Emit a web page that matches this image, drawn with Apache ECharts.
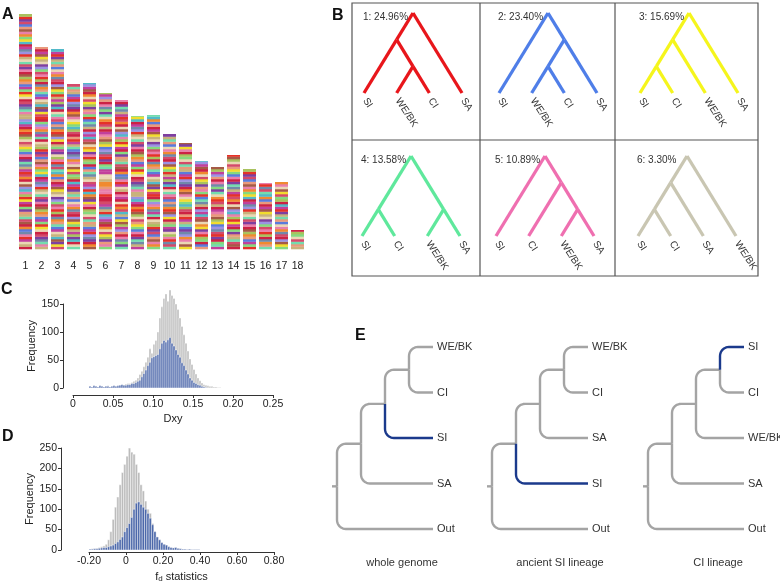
<!DOCTYPE html>
<html><head><meta charset="utf-8">
<script src="https://cdn.jsdelivr.net/npm/echarts/dist/echarts.min.js"></script>
<style>html,body{margin:0;padding:0;background:#fff}#c{width:780px;height:584px}</style>
</head><body><div id="c"></div>
<script>
// ---------------- Panel A data ----------------
const chromLabels = ['1','2','3','4','5','6','7','8','9','10','11','12','13','14','15','16','17','18'];
const chromLengths = [235,202,200,165,166,156,149,133,134,115,106,88,82,94,80,66,67,19];
const stripePalette = ['#cc2244','#e53228','#f08a30','#f2dc2e','#c9b27c','#a9c25e','#86d97e','#74dcae','#52b9c9','#5a7bdc','#9b92e2','#7e3fa0','#c2409c','#e97fab','#e99a7c','#a65a46','#ead7b4','#7189aa','#d44a6a'];
const stripePattern = "aeqmbnrjcapsheolgamdbfnikpqacsbmerhlanjgdosqfpbcamikeenhrlsaqdbgmjocfpanlshqebkrmaidgcnpojslbfeqahmrcnkgabsdlpieqmjhocrafbnsgklqedpmaojcihsrbnfqlmgeadkpbcrojsnhqailfmebgdpkasrcnqjohelbmiafgsdpqnckrljhemboasfigdqnpcalrkbmjeohsqgfandlpcibkmsqerhojagfbnldcqpsimkaerhjbgnolfdsqcapmkibermsaabnnocceqqmmhgalbsrkjdfponmaesbcqhlgrnaokmfpdjeiscbqamn";
const stripeUnit = 2.5;

// ---------------- Panel B data ----------------
const topoPercent = [24.96, 23.40, 15.69, 13.58, 10.89, 3.30];
const topoTrees = [
  [['SI',['WE/BK','CI']],'SA'],
  ['SI',[['WE/BK','CI'],'SA']],
  [[['SI','CI'],'WE/BK'],'SA'],
  [['SI','CI'],['WE/BK','SA']],
  ['SI',['CI',['WE/BK','SA']]],
  [[['SI','CI'],'SA'],'WE/BK']
];
const topoColors = ['#e8161b','#4f7ee8','#f5f51c','#5fe89c','#ef6fb0','#c9c6b2'];

// ---------------- Panel C data (Dxy histogram) ----------------
const dxyBinStart = 0.02, dxyBinWidth = 0.0025;
const dxyAll  = [3,2,4,3,2,4,3,2,3,4,2,3,4,3,4,5,6,5,7,8,8,10,12,14,18,24,30,38,46,55,70,62,78,85,100,125,145,160,168,155,175,165,160,150,140,125,110,95,80,66,52,42,33,25,18,13,9,6,5,4,3,3,2,2,1,1];
const dxyBlue = [3,2,4,3,2,4,3,2,3,3,2,3,4,3,4,5,6,5,5,6,6,8,8,10,12,14,20,26,32,40,46,54,56,58,60,70,80,85,82,86,90,80,75,68,60,55,45,40,32,25,18,14,10,8,6,5,3,2,1,0,0,0,0,0,0,0];

// ---------------- Panel D data (fd histogram) ----------------
const fdBinStart = -0.2, fdBinWidth = 0.0125;
const fdAll  = [2,3,3,4,6,8,10,14,25,45,75,105,130,160,190,210,230,250,240,235,210,190,160,145,120,100,90,65,45,32,25,18,14,12,8,6,5,6,4,3,2,2,1,2,1,1,1,1];
const fdBlue = [2,2,3,3,4,5,6,6,8,10,12,16,20,26,32,45,55,65,80,100,115,118,112,105,100,90,78,62,45,32,25,18,14,12,8,6,5,6,4,3,2,2,1,2,1,1,1,1];

// ---------------- Panel E data ----------------
const eTrees = [
  [[[['WE/BK','CI'],'SI'],'SA'],'Out'],
  [[[['WE/BK','CI'],'SA'],'SI'],'Out'],
  [[[['SI','CI'],'WE/BK'],'SA'],'Out']
];
const eHighlight = ['SI','SI','SI'];
const eTitles = ['whole genome','ancient SI lineage','CI lineage'];

// ======================================================
const FONT = 'Liberation Sans, Arial, Helvetica, sans-serif';
const chart = echarts.init(document.getElementById('c'), null, {renderer:'canvas'});
const grids = [], xAxes = [], yAxes = [], series = [];
function addGrid(g, xa, ya){ const i = grids.length; grids.push(g); xa.gridIndex=i; ya.gridIndex=i; xAxes.push(xa); yAxes.push(ya); return i; }
const hidden = (o)=>Object.assign({show:false}, o);

// ---- A ----
const gA = addGrid({left:17.5, top:14, width:288, height:235},
  {type:'category', data:chromLabels, axisLine:{show:false}, axisTick:{show:false},
   axisLabel:{fontSize:10.5, color:'#222', fontFamily:FONT, margin:12, interval:0}},
  hidden({type:'value', min:0, max:235}));
const stripeData = [];
chromLengths.forEach((len, ci) => {
  let y = 0, k = ci * 53;
  while (y < len - 0.01) {
    const ch = stripePattern[k % stripePattern.length];
    const y1 = Math.min(len, y + stripeUnit);
    stripeData.push([ci, y, y1, ch.charCodeAt(0) - 97]);
    y = y1; k++;
  }
});
series.push({type:'custom', xAxisIndex:gA, yAxisIndex:gA, clip:false, data:stripeData,
  encode:{x:0, y:[1,2]},
  renderItem:(p, api)=>{
    const top = api.coord([api.value(0), api.value(2)]);
    const bot = api.coord([api.value(0), api.value(1)]);
    const w = api.size([1,0])[0] * 0.81;
    return {type:'rect', shape:{x:top[0]-w/2, y:top[1], width:w, height:bot[1]-top[1]+0.3},
      style:{fill:stripePalette[api.value(3)]}};
  }});

// ---- B ----
function layoutSlanted(tree){
  let idx = 0; const edges = [], leaves = [];
  function rec(n){
    if (typeof n === 'string'){ const p = {x:idx, y:0, name:n, lo:idx, hi:idx}; idx++; leaves.push(p); return p; }
    const kids = n.map(rec);
    const lo = kids[0].lo, hi = kids[kids.length-1].hi;
    const p = {x:(lo+hi)/2, y:(hi-lo)/2, lo, hi};
    kids.forEach(k=>edges.push([p,k]));
    return p;
  }
  const root = rec(tree);
  return {root, edges, leaves};
}
const bLeft = [[364,499,640],[362,496,638]];
const bTop = [13,156];
topoTrees.forEach((t, i) => {
  const row = Math.floor(i/3), col = i%3;
  const g = addGrid({left:bLeft[row][col], top:bTop[row], width:98, height:80},
    hidden({type:'value', min:0, max:3}), hidden({type:'value', min:0, max:1.5}));
  const L = layoutSlanted(t);
  const label = (i+1) + ': ' + topoPercent[i].toFixed(2) + '%';
  series.push({type:'custom', xAxisIndex:g, yAxisIndex:g, clip:false, data:[[0,0]],
    renderItem:(p, api)=>{
      const ch = [];
      L.edges.forEach(([a,b])=>{
        const pa = api.coord([a.x,a.y]), pb = api.coord([b.x,b.y]);
        ch.push({type:'line', shape:{x1:pa[0],y1:pa[1],x2:pb[0],y2:pb[1]},
          style:{stroke:topoColors[i], lineWidth:3.3, lineCap:'butt'}});
      });
      L.leaves.forEach(lf=>{
        const q = api.coord([lf.x, lf.y]);
        ch.push({type:'text', x:q[0]+1, y:q[1]+6, rotation:-57*Math.PI/180,
          style:{text:lf.name, x:0, y:0, align:'left', verticalAlign:'middle', fill:'#333', font:'10px '+FONT}});
      });
      const r = api.coord([0, 1.5]);
      ch.push({type:'text', style:{text:label, x:r[0]-1, y:r[1]+4, align:'left', verticalAlign:'middle', fill:'#333', font:'10px '+FONT}});
      return {type:'group', children:ch};
    }});
});

// ---- C / D histograms ----
function histSeries(g, start, width, counts, color){
  const data = counts.map((c,i)=>[start+i*width, start+(i+1)*width, c]).filter(d=>d[2]>0);
  return {type:'custom', xAxisIndex:g, yAxisIndex:g, clip:false, data, encode:{x:[0,1], y:2},
    renderItem:(p, api)=>{
      const a = api.coord([api.value(0), api.value(2)]);
      const b = api.coord([api.value(1), 0]);
      return {type:'rect', shape:{x:a[0], y:a[1], width:b[0]-a[0], height:b[1]-a[1]},
        style:{fill:color, stroke:'#ffffff', lineWidth:0.45}};
    }};
}
const axStyle = {lineStyle:{color:'#333', width:1}};
const labStyle = {fontSize:10.5, color:'#222', fontFamily:FONT};
function fmtTick(v){ return Math.abs(v) < 1e-9 ? '0' : v.toFixed(2); }

// C
const gC = addGrid({left:73, top:276, width:200, height:112},
  hidden({type:'value', min:0, max:0.25}), hidden({type:'value', min:0, max:200}));
series.push(histSeries(gC, dxyBinStart, dxyBinWidth, dxyAll, '#bcbcbc'));
series.push(histSeries(gC, dxyBinStart, dxyBinWidth, dxyBlue, '#4c68aa'));
addGrid({left:63, top:304, width:10, height:84}, hidden({type:'value', min:0, max:1}),
  {type:'value', min:0, max:150, interval:50, position:'left', axisLine:Object.assign({show:true},axStyle),
   axisTick:{show:true, length:3, lineStyle:{color:'#333'}}, splitLine:{show:false},
   axisLabel:Object.assign({margin:4}, labStyle),
   name:'Frequency', nameLocation:'middle', nameGap:17, nameRotate:90,
   nameTextStyle:{fontSize:11, color:'#222', fontFamily:FONT}});
addGrid({left:73, top:390, width:200, height:5},
  {type:'value', min:0, max:0.25, interval:0.05, position:'bottom', axisLine:Object.assign({show:true},axStyle),
   axisTick:{show:true, length:3, lineStyle:{color:'#333'}}, splitLine:{show:false},
   axisLabel:Object.assign({margin:4, formatter:fmtTick}, labStyle),
   name:'Dxy', nameLocation:'middle', nameGap:18, nameTextStyle:{fontSize:11, color:'#222', fontFamily:FONT}},
  hidden({type:'value', min:0, max:1}));

// D
const gD = addGrid({left:89, top:444, width:185, height:106},
  hidden({type:'value', min:-0.2, max:0.8}), hidden({type:'value', min:0, max:260}));
series.push(histSeries(gD, fdBinStart, fdBinWidth, fdAll, '#bcbcbc'));
series.push(histSeries(gD, fdBinStart, fdBinWidth, fdBlue, '#4c68aa'));
addGrid({left:61, top:448, width:10, height:102}, hidden({type:'value', min:0, max:1}),
  {type:'value', min:0, max:250, interval:50, position:'left', axisLine:Object.assign({show:true},axStyle),
   axisTick:{show:true, length:3, lineStyle:{color:'#333'}}, splitLine:{show:false},
   axisLabel:Object.assign({margin:4}, labStyle),
   name:'Frequency', nameLocation:'middle', nameGap:17, nameRotate:90,
   nameTextStyle:{fontSize:11, color:'#222', fontFamily:FONT}});
addGrid({left:89, top:550, width:185, height:5},
  {type:'value', min:-0.2, max:0.8, interval:0.2, position:'bottom', axisLine:Object.assign({show:true},axStyle),
   axisTick:{show:true, length:3, lineStyle:{color:'#333'}}, splitLine:{show:false},
   axisLabel:Object.assign({margin:4, formatter:fmtTick}, labStyle),
   name:'{f|f}{d|d}{f| statistics}', nameLocation:'middle', nameGap:19,
   nameTextStyle:{fontSize:11, color:'#222', fontFamily:FONT,
     rich:{f:{fontSize:11, color:'#222', fontFamily:FONT}, d:{fontSize:8, color:'#222', fontFamily:FONT, verticalAlign:'bottom', padding:[4,0,0,0]}}}},
  hidden({type:'value', min:0, max:1}));

// ---- E ----
function layoutRect(tree){
  let idx = 0; const edges = [], leaves = [];
  function depthOf(n){ return typeof n === 'string' ? 0 : 1 + Math.max(...n.map(depthOf)); }
  const maxD = depthOf(tree);
  function rec(n, d){
    if (typeof n === 'string'){ const p = {x:maxD, y:idx++, name:n}; leaves.push(p); return p; }
    const kids = n.map(c=>rec(c, d+1));
    const p = {x:d, y:(kids[0].y + kids[kids.length-1].y)/2};
    kids.forEach(k=>edges.push([p,k]));
    return p;
  }
  const root = rec(tree, 0);
  return {root, edges, leaves, maxD};
}
const eLeft = [337, 492, 648];
eTrees.forEach((t, i) => {
  const L = layoutRect(t);
  const g = addGrid({left:eLeft[i], top:347, width:96, height:182},
    hidden({type:'value', min:0, max:L.maxD}), hidden({type:'value', min:0, max:L.leaves.length-1, inverse:true}));
  series.push({type:'custom', xAxisIndex:g, yAxisIndex:g, clip:false, data:[[0,0]],
    renderItem:(p, api)=>{
      const gray = [], blue = [], txt = [];
      const rc = api.coord([L.root.x, L.root.y]);
      gray.push({type:'line', shape:{x1:rc[0]-5, y1:rc[1], x2:rc[0], y2:rc[1]}, style:{stroke:'#a4a4a4', lineWidth:2.4}});
      L.edges.forEach(([a,b])=>{
        const pa = api.coord([a.x,a.y]), pb = api.coord([b.x,b.y]);
        const s = pb[1] > pa[1] ? 1 : -1;
        const R = Math.min(9, Math.abs(pb[1]-pa[1]));
        const pts = [[pa[0], pa[1]]];
        const cx = pa[0] + R, cy = pb[1] - s*R;
        for (let k = 0; k <= 8; k++){
          const th = k/8 * Math.PI/2;
          pts.push([cx - R*Math.cos(th), cy + s*R*Math.sin(th)]);
        }
        pts.push([pb[0], pb[1]]);
        const isHi = b.name === eHighlight[i];
        (isHi ? blue : gray).push({type:'polyline', shape:{points:pts},
          style:{stroke:isHi ? '#1b3a8c' : '#a4a4a4', lineWidth:2.4, fill:null, lineJoin:'round'}});
      });
      L.leaves.forEach(lf=>{
        const q = api.coord([lf.x, lf.y]);
        txt.push({type:'text', style:{text:lf.name, x:q[0]+4, y:q[1], align:'left', verticalAlign:'middle', fill:'#333', font:'11px '+FONT}});
      });
      return {type:'group', children:gray.concat(blue, txt)};
    }});
});

// ---- static graphics ----
const graphic = [];
[['A',8,16],['B',338,17],['C',7,291],['D',8,438],['E',361,337]].forEach(([t,x,y])=>{
  graphic.push({type:'text', left:x-6, top:y-9, style:{text:t, font:'bold 16px '+FONT, fill:'#111'}});
});
// B box
graphic.push({type:'rect', shape:{x:352, y:3, width:406, height:273}, style:{fill:null, stroke:'#555', lineWidth:1.2}});
[480, 615].forEach(x=>graphic.push({type:'line', shape:{x1:x, y1:3, x2:x, y2:276}, style:{stroke:'#555', lineWidth:1.2}}));
graphic.push({type:'line', shape:{x1:352, y1:140, x2:758, y2:140}, style:{stroke:'#555', lineWidth:1.2}});
// E titles
const eTitleX = [402, 560, 718];
eTitles.forEach((t,i)=>graphic.push({type:'text', x:eTitleX[i], y:563,
  style:{text:t, font:'11px '+FONT, fill:'#333', align:'center', verticalAlign:'middle'}}));

chart.setOption({animation:false, backgroundColor:'#fff', grid:grids, xAxis:xAxes, yAxis:yAxes, series, graphic});
</script></body></html>
